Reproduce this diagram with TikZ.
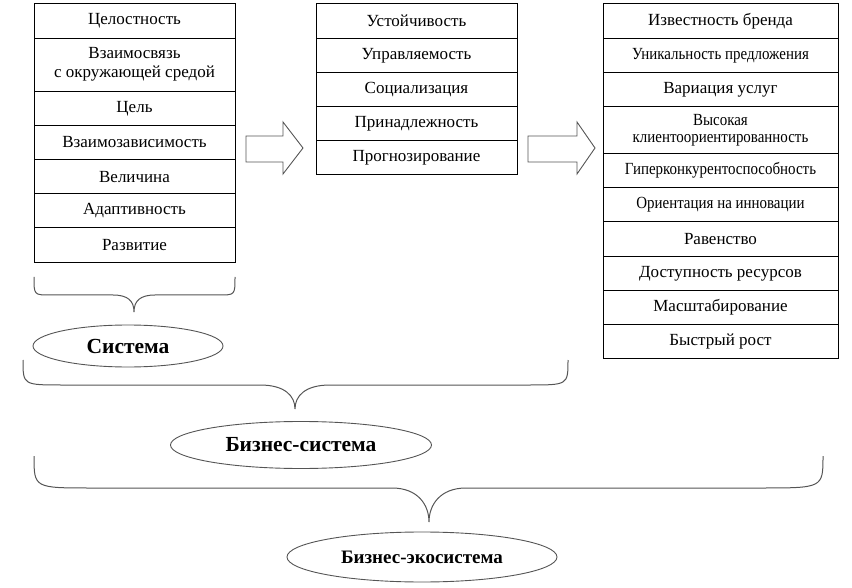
\documentclass[tikz,border=0pt]{standalone}
\usepackage{fontspec}
\setmainfont{Liberation Serif}
\newfontfamily\narrowfont[FakeStretch=0.88]{Liberation Serif}
\usepackage{tikz}
\usetikzlibrary{positioning,shapes.geometric}
\definecolor{linegray}{RGB}{85,85,85}
\tikzstyle{cell}=[draw,line width=1pt,inner sep=0pt,outer sep=0pt,minimum height=34.2pt,align=center,font=\fontsize{17}{19}\selectfont]
\tikzstyle{cellA}=[cell,minimum width=201pt]
\tikzstyle{cellC}=[cell,minimum width=235pt]
\tikzstyle{narrow}=[font=\narrowfont\fontsize{17}{17}\selectfont]
\tikzstyle{oval}=[draw=linegray,ellipse,line width=0.9pt,inner sep=0pt,font=\bfseries\fontsize{21.5}{23}\selectfont]
\tikzstyle{brace}=[draw=linegray,line width=1pt]
\tikzstyle{blockarrow}=[draw=linegray,line width=0.9pt,line join=miter]

\begin{document}
\begin{tikzpicture}[x=1pt,y=-1pt]
    \useasboundingbox (0,0) rectangle (852,588);
    % first column
    \node [cellA,anchor=north west] (a1) at (34,4) {Целостность};
    \node [cellA,below=0pt of a1,minimum height=53pt] (a2) {Взаимосвязь\\с окружающей средой};
    \node [cellA,below=0pt of a2] (a3) {Цель};
    \node [cellA,below=0pt of a3] (a4) {Взаимозависимость};
    \node [cellA,below=0pt of a4] (a5) {Величина};
    \node [cellA,below=0pt of a5] (a6) {Адаптивность};
    \node [cellA,below=0pt of a6] (a7) {Развитие};
    % second column
    \node [cellA,anchor=north west] (b1) at (316,4) {Устойчивость};
    \node [cellA,below=0pt of b1] (b2) {Управляемость};
    \node [cellA,below=0pt of b2] (b3) {Социализация};
    \node [cellA,below=0pt of b3] (b4) {Принадлежность};
    \node [cellA,below=0pt of b4] (b5) {Прогнозирование};
    % third column
    \node [cellC,anchor=north west] (c1) at (603,4) {Известность бренда};
    \node [cellC,narrow,below=0pt of c1] (c2) {Уникальность предложения};
    \node [cellC,below=0pt of c2] (c3) {Вариация услуг};
    \node [cellC,narrow,below=0pt of c3,minimum height=47pt] (c4) {Высокая\\клиентоориентированность};
    \node [cellC,narrow,below=0pt of c4] (c5) {Гиперконкурентоспособность};
    \node [cellC,narrow,below=0pt of c5] (c6) {Ориентация на инновации};
    \node [cellC,below=0pt of c6] (c7) {Равенство};
    \node [cellC,below=0pt of c7] (c8) {Доступность ресурсов};
    \node [cellC,below=0pt of c8] (c9) {Масштабирование};
    \node [cellC,below=0pt of c9] (c10) {Быстрый рост};
    % arrows
    \draw [blockarrow] (246,136) -- (283,136) -- (283,122) -- (303,148) -- (283,174) -- (283,162) -- (246,162) -- cycle;
    \draw [blockarrow] (528,136) -- (577,136) -- (577,122) -- (595,148) -- (577,174) -- (577,162) -- (528,162) -- cycle;
    % braces
    \draw [brace] (34,277) .. controls (34,295) .. (50,295) -- (113,295)
        .. controls (128,295) and (134,301) .. (134,312)
        .. controls (134,301) and (140,295) .. (155,295) -- (219,295)
        .. controls (235,295) .. (235,277);
    \draw [brace] (23,360) .. controls (23,385) .. (63,385) -- (260,385)
        .. controls (285,385) and (295,396) .. (295,409)
        .. controls (295,396) and (305,385) .. (330,385) -- (528,385)
        .. controls (568,385) .. (568,360);
    \draw [brace] (34,456) .. controls (34,488) .. (92,488) -- (392,488)
        .. controls (418,488) and (429,505) .. (429,522)
        .. controls (429,505) and (440,488) .. (466,488) -- (760,488)
        .. controls (823,488) .. (823,456);
    % ovals
    \node [oval,minimum width=190pt,minimum height=42pt] (sys) at (128,346) {Система};
    \node [oval,minimum width=261pt,minimum height=47pt] (bsys) at (301,445) {Бизнес-система};
    \node [oval,minimum width=270pt,minimum height=50pt,font=\bfseries\fontsize{19}{21}\selectfont] (beco) at (422,557) {Бизнес-экосистема};
\end{tikzpicture}
\end{document}
